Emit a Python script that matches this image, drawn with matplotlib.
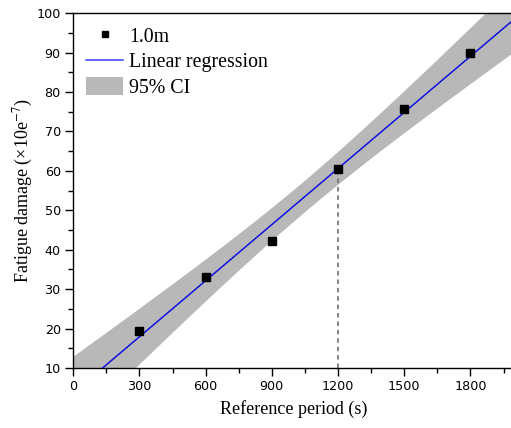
import matplotlib
matplotlib.use("Agg")

import numpy as np
import matplotlib.pyplot as plt
from matplotlib.ticker import MultipleLocator
from matplotlib.patches import Patch
from matplotlib.lines import Line2D

# ---------------------------------------------------------------------------
# Data
# ---------------------------------------------------------------------------
period_s = np.array([300, 600, 900, 1200, 1500, 1800])
damage   = np.array([19.5, 33.1, 42.2, 60.6, 75.8, 89.8])
marked_idx = 3                      # point marked by the dashed drop line
x_ticks = [0, 300, 600, 900, 1200, 1500, 1800]
y_ticks = [10, 20, 30, 40, 50, 60, 70, 80, 90, 100]

# band half-width factor (t * s), matched to the band drawn in the figure
CI_SCALE = 9.8

# ---------------------------------------------------------------------------
# Linear fit + confidence band
# ---------------------------------------------------------------------------
slope, intercept = np.polyfit(period_s, damage, 1)
xg = np.linspace(0, 2000, 400)
yg = intercept + slope * xg
n = len(period_s)
xm = period_s.mean()
sxx = ((period_s - xm) ** 2).sum()
half = CI_SCALE * np.sqrt(1 / n + (xg - xm) ** 2 / sxx)

# ---------------------------------------------------------------------------
# Figure
# ---------------------------------------------------------------------------
plt.rcParams["mathtext.fontset"] = "stix"
serif = "Liberation Serif"

fig = plt.figure(figsize=(5.11, 4.28), dpi=100)
ax = fig.add_axes([0.1434, 0.1402, 0.8636, 0.829])

ax.fill_between(xg, yg - half, yg + half, color="#b8b8b8", lw=0, zorder=1)
ax.plot(xg, yg, color="#1010e0", lw=1.1, zorder=3)
ax.plot([period_s[marked_idx]] * 2, [10, damage[marked_idx]],
        color="#666666", lw=1.1, ls=(0, (3, 2.5)), zorder=2)
ax.plot(period_s, damage, "s", color="black", ms=5.2, zorder=4)

ax.set_xlim(0, 2000)
ax.set_ylim(10, 100)
ax.set_xticks(x_ticks)
ax.set_yticks(y_ticks)
ax.xaxis.set_minor_locator(MultipleLocator(150))
ax.yaxis.set_minor_locator(MultipleLocator(5))
ax.tick_params(which="major", direction="out", length=6, width=1,
               labelsize=9.2, pad=3)
ax.tick_params(which="minor", direction="out", length=3.5, width=1)
ax.spines["right"].set_visible(False)
for sp in ["left", "bottom", "top"]:
    ax.spines[sp].set_linewidth(1.0)

ax.set_xlabel("Reference period (s)", fontfamily=serif, fontsize=13, labelpad=5)
ax.set_ylabel("Fatigue damage (×10e$^{-7}$)", fontfamily=serif, fontsize=13,
              labelpad=1)

handles = [
    Line2D([], [], ls="none", marker="s", color="black", ms=5),
    Line2D([], [], color="#3a3aff", lw=1.1),
    Patch(facecolor="#b8b8b8", edgecolor="none"),
]
ax.legend(handles, ["1.0m", "Linear regression", "95% CI"],
          loc="upper left", frameon=False,
          prop={"family": serif, "size": 14.3},
          handlelength=1.85, handleheight=1.0, handletextpad=0.3,
          labelspacing=0.25, borderpad=0.45, borderaxespad=0.2)

fig.savefig("out.png", dpi=100)
